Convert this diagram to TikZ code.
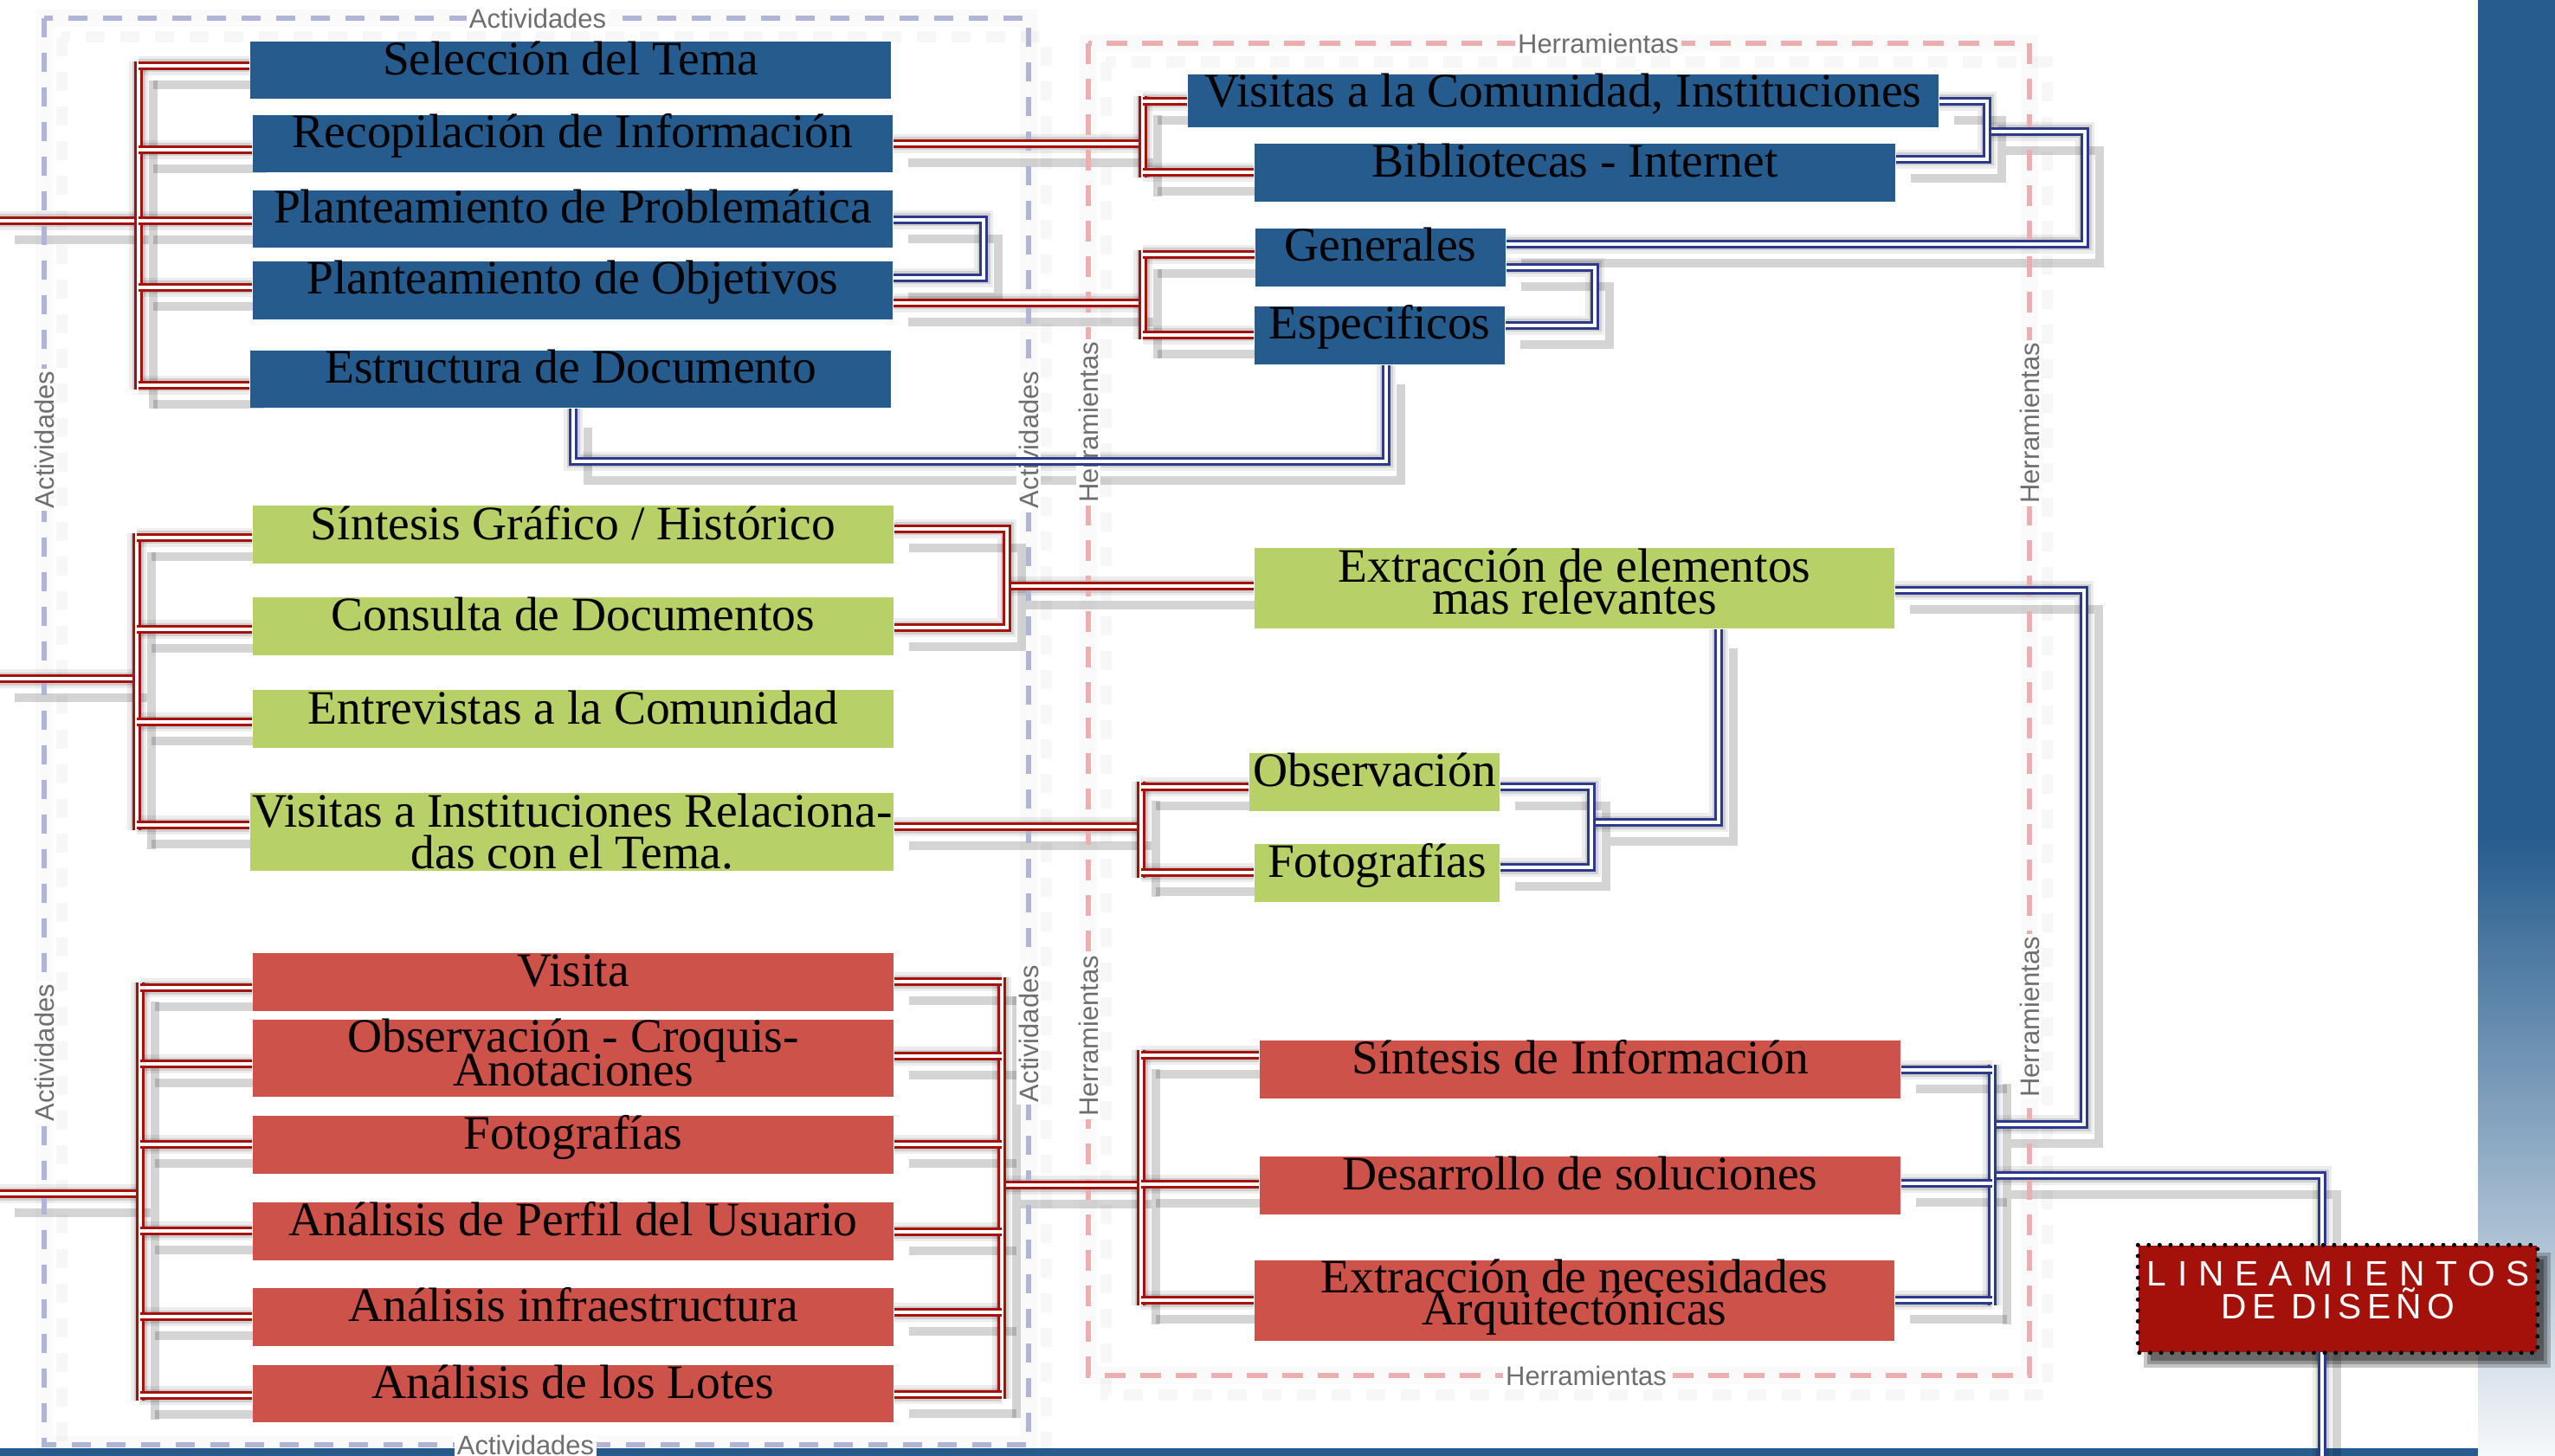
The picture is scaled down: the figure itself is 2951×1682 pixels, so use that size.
\documentclass[tikz,border=0pt]{standalone}
\usepackage{fontspec}
\setmainfont{Liberation Serif}
\setsansfont{Liberation Sans}
\newfontfamily\titlefontA[LetterSpace=31]{Liberation Sans}
\newfontfamily\titlefontB[LetterSpace=16]{Liberation Sans}
\usetikzlibrary{fit}

\definecolor{boxblue}{HTML}{255B8D}
\definecolor{boxgreen}{HTML}{B7D067}
\definecolor{boxred}{HTML}{CD524A}
\definecolor{wirered}{HTML}{A5120E}
\definecolor{wireblue}{HTML}{2B3A8A}
\definecolor{fact}{HTML}{B1B5D5}
\definecolor{fherr}{HTML}{EBAFB1}
\definecolor{labgray}{HTML}{6E6E6E}
\definecolor{linred}{HTML}{A3110A}
\definecolor{band}{HTML}{265C8E}

\pgfdeclarelayer{frameshadow}
\pgfdeclarelayer{wireshadow}
\pgfdeclarelayer{frames}
\pgfsetlayers{frameshadow,wireshadow,frames,main}

\tikzset{
  box/.style={inner sep=0pt, draw=none},
  txt/.style={inner sep=0pt, font=\fontsize{15.8}{19}\selectfont, text=black},
  wirestyle/.style={line width=0.33mm, double=white, double distance=0.4mm},
  wshadow/.style={draw=black, opacity=0.17, line width=1.0mm,
    preaction={draw=black, opacity=0.12, line width=1.5mm},
    preaction={draw=black, opacity=0.07, line width=2.2mm},
    transform canvas={shift={(17,22)}}},
  frameA/.style={draw=fact, line width=0.6mm, dash pattern=on 2.2mm off 1.8mm},
  frameH/.style={draw=fherr, line width=0.6mm, dash pattern=on 2.4mm off 1.7mm},
  fshadow/.style={draw=black, opacity=0.03, line width=1.3mm,
    dash pattern=on 2.2mm off 1.8mm, transform canvas={shift={(20,22)}},
    preaction={draw=black, opacity=0.02, line width=2.0mm}},
  flab/.style={font=\sffamily\fontsize{8.8}{10}\selectfont, text=labgray,
    fill=white, inner sep=0.3mm},
}

% connector with its soft drop shadow
\newcommand\wire[2]{%
  \begin{pgfonlayer}{wireshadow}\draw[wshadow] #2;\end{pgfonlayer}%
  \draw[wirestyle, draw=#1] #2;}

% filled box from its corners
\newcommand\ibox[6]{\node[box, fill=#6, fit={(#2,#3) (#4,#5)}] (#1) {};}

\begin{document}
\begin{tikzpicture}[x=0.1mm, y=-0.1mm]
\useasboundingbox (0,0) rectangle (2951,1682);

% ---------- page decoration ----------
\begin{pgfonlayer}{frameshadow}
  \fill[band] (2862,0) rectangle (2951,966);
  \shade[top color=band, bottom color=band!4] (2862,966) rectangle (2951,1682);
  \fill[band] (0,1673) rectangle (2862,1682);
  \draw[fshadow] (51,21) rectangle (1188,1669);
  \draw[fshadow] (1257,50) rectangle (2344,1589);
\end{pgfonlayer}

% ---------- dashed groups ----------
\begin{pgfonlayer}{frames}
  \draw[frameA] (51,21) rectangle (1188,1669);
  \draw[frameH] (1257,50) rectangle (2344,1589);
  \node[flab] (a1) at (621,21) {Actividades};
  \node[flab] (a2) at (607,1669) {Actividades};
  \node[flab, rotate=90] (a3) at (51,508) {Actividades};
  \node[flab, rotate=90] (a4) at (51,1216) {Actividades};
  \node[flab, rotate=90] (a5) at (1188,508) {Actividades};
  \node[flab, rotate=90] (a6) at (1188,1194) {Actividades};
  \node[flab] (h1l) at (1846,50) {Herramientas};
  \node[flab] (h2l) at (1832,1589) {Herramientas};
  \node[flab, rotate=90] (h3l) at (1257,488) {Herramientas};
  \node[flab, rotate=90] (h4l) at (1257,1197) {Herramientas};
  \node[flab, rotate=90] (h5l) at (2344,489) {Herramientas};
  \node[flab, rotate=90] (h6l) at (2344,1175) {Herramientas};
\end{pgfonlayer}

% ---------- boxes ----------
\ibox{b1}{289}{48}{1029}{114}{boxblue}
\ibox{b2}{292}{133}{1031}{199}{boxblue}
\ibox{b3}{292}{220}{1031}{286}{boxblue}
\ibox{b4}{292}{302}{1031}{369}{boxblue}
\ibox{b5}{289}{405}{1029}{471}{boxblue}
\ibox{h1}{1372}{86}{2239}{147}{boxblue}
\ibox{h2}{1449}{166}{2189}{233}{boxblue}
\ibox{h3}{1450}{264}{1739}{331}{boxblue}
\ibox{h4}{1449}{354}{1738}{421}{boxblue}

\ibox{g1}{292}{584}{1032}{651}{boxgreen}
\ibox{g2}{292}{690}{1032}{757}{boxgreen}
\ibox{g3}{292}{797}{1032}{864}{boxgreen}
\ibox{g4}{289}{916}{1032}{1006}{boxgreen}
\ibox{k1}{1449}{633}{2188}{726}{boxgreen}
\ibox{k2}{1443}{870}{1732}{937}{boxgreen}
\ibox{k3}{1449}{975}{1732}{1042}{boxgreen}

\ibox{r1}{292}{1101}{1032}{1168}{boxred}
\ibox{r2}{292}{1178}{1032}{1267}{boxred}
\ibox{r3}{292}{1289}{1032}{1356}{boxred}
\ibox{r4}{292}{1389}{1032}{1456}{boxred}
\ibox{r5}{292}{1488}{1032}{1555}{boxred}
\ibox{r6}{292}{1577}{1032}{1643}{boxred}
\ibox{s1}{1455}{1202}{2195}{1269}{boxred}
\ibox{s2}{1455}{1336}{2195}{1403}{boxred}
\ibox{s3}{1449}{1456}{2188}{1549}{boxred}

% ---------- box texts ----------
\node[txt, anchor=base] (b1t) at (b1.north |- 0,87) {Selección del Tema};
\node[txt, anchor=base] (b2t) at (b2.north |- 0,171) {Recopilación de Información};
\node[txt, anchor=base] (b3t) at (b3.north |- 0,258) {Planteamiento de Problemática};
\node[txt, anchor=base] (b4t) at (b4.north |- 0,340) {Planteamiento de Objetivos};
\node[txt, anchor=base] (b5t) at (b5.north |- 0,443) {Estructura de Documento};
\node[txt, anchor=base] (h1t) at (h1.north |- 0,124) {Visitas a la Comunidad, Instituciones};
\node[txt, anchor=base] (h2t) at (h2.north |- 0,205) {Bibliotecas - Internet};
\node[txt, anchor=base] (h3t) at (h3.north |- 0,302) {Generales};
\node[txt, anchor=base] (h4t) at (h4.north |- 0,392) {Especificos};

\node[txt, anchor=base] (g1t) at (g1.north |- 0,623) {Síntesis Gráfico / Histórico};
\node[txt, anchor=base] (g2t) at (g2.north |- 0,728) {Consulta de Documentos};
\node[txt, anchor=base] (g3t) at (g3.north |- 0,836) {Entrevistas a la Comunidad};
\node[txt, anchor=base] (g4t) at (661,955) {\makebox[73.9mm][s]{Visitas a Instituciones Relaciona-}};
\node[txt, anchor=base] (g4u) at (661,1003) {das con el Tema.};
\node[txt, anchor=base] (k1t) at (k1.north |- 0,672) {Extracción de elementos};
\node[txt, anchor=base] (k1u) at (k1.north |- 0,709) {mas relevantes};
\node[txt, anchor=base] (k2t) at (k2.north |- 0,908) {Observación};
\node[txt, anchor=base] (k3t) at (k3.north |- 0,1013) {Fotografías};

\node[txt, anchor=base] (r1t) at (r1.north |- 0,1139) {Visita};
\node[txt, anchor=base] (r2t) at (r2.north |- 0,1215) {Observación - Croquis-};
\node[txt, anchor=base] (r2u) at (r2.north |- 0,1254) {Anotaciones};
\node[txt, anchor=base] (r3t) at (r3.north |- 0,1327) {Fotografías};
\node[txt, anchor=base] (r4t) at (r4.north |- 0,1427) {Análisis de Perfil del Usuario};
\node[txt, anchor=base] (r5t) at (r5.north |- 0,1526) {Análisis infraestructura};
\node[txt, anchor=base] (r6t) at (r6.north |- 0,1615) {Análisis de los Lotes};
\node[txt, anchor=base] (s1t) at (s1.north |- 0,1240) {Síntesis de Información};
\node[txt, anchor=base] (s2t) at (s2.north |- 0,1374) {Desarrollo de soluciones};
\node[txt, anchor=base] (s3t) at (s3.north |- 0,1493) {Extracción de necesidades};
\node[txt, anchor=base] (s3u) at (s3.north |- 0,1530) {Arquitectónicas};

% ---------- connectors: first group ----------
\coordinate (inA) at (0,255);
\wire{wirered}{(160,71) -- (160,450)}
\wire{wirered}{(inA) -- (155,255)}
\foreach \n/\y in {b1/76,b2/173,b3/255,b4/332,b5/445}
  {\wire{wirered}{(160,\y) -- (\n.west |- 0,\y)}}

\wire{wirered}{(1320,111) -- (1320,205)}
\wire{wirered}{(b2.east |- 0,166) -- (1315,166)}
\wire{wirered}{(1320,117) -- (h1.west |- 0,117)}
\wire{wirered}{(1320,199) -- (h2.west |- 0,199)}

\wire{wirered}{(1320,289) -- (1320,392)}
\wire{wirered}{(b4.east |- 0,350) -- (1315,350)}
\wire{wirered}{(1320,294) -- (h3.west |- 0,294)}
\wire{wirered}{(1320,387) -- (h4.west |- 0,387)}

\wire{wireblue}{(b3.east |- 0,254) -- (1136,254) -- (1136,321) -- (b4.east |- 0,321)}
\wire{wireblue}{(h1.east |- 0,117) -- (2295,117) -- (2295,184) -- (h2.east |- 0,184)}
\wire{wireblue}{(2300,152) -- (2408,152) -- (2408,282) -- (h3.east |- 0,282)}
\wire{wireblue}{(h3.east |- 0,309) -- (1842,309) -- (1842,376) -- (h4.east |- 0,376)}
\wire{wireblue}{(662,0 |- b5.south) -- (662,533) -- (1601,533) -- (1601,0 |- h4.south)}

% ---------- connectors: second group ----------
\coordinate (inB) at (0,784);
\wire{wirered}{(158,616) -- (158,959)}
\wire{wirered}{(inB) -- (153,784)}
\foreach \n/\y in {g1/621,g2/727,g3/834,g4/953}
  {\wire{wirered}{(158,\y) -- (\n.west |- 0,\y)}}

\wire{wirered}{(g1.east |- 0,611) -- (1163,611) -- (1163,725) -- (g2.east |- 0,725)}
\wire{wirered}{(1168,677) -- (k1.west |- 0,677)}

\wire{wirered}{(1318,903) -- (1318,1014)}
\wire{wirered}{(g4.east |- 0,955) -- (1313,955)}
\wire{wirered}{(1318,909) -- (k2.west |- 0,909)}
\wire{wirered}{(1318,1008) -- (k3.west |- 0,1008)}

\wire{wireblue}{(k2.east |- 0,909) -- (1838,909) -- (1838,1002) -- (k3.east |- 0,1002)}
\wire{wireblue}{(1843,950) -- (1985,950) -- (1985,0 |- k1.south)}
\wire{wireblue}{(k1.east |- 0,682) -- (2407,682) -- (2407,1299) -- (2306,1299)}

% ---------- connectors: third group ----------
\coordinate (inC) at (0,1379);
\wire{wirered}{(162,1135) -- (162,1618)}
\wire{wirered}{(inC) -- (157,1379)}
\foreach \n/\y in {r1/1141,r2/1229,r3/1322,r4/1422,r5/1521,r6/1612}
  {\wire{wirered}{(162,\y) -- (\n.west |- 0,\y)}}

\wire{wirered}{(1157,1129) -- (1157,1616)}
\foreach \n/\y in {r1/1134,r2/1220,r3/1322,r4/1423,r5/1516,r6/1611}
  {\wire{wirered}{(\n.east |- 0,\y) -- (1157,\y)}}
\wire{wirered}{(1162,1369) -- (1313,1369)}

\wire{wirered}{(1318,1213) -- (1318,1508)}
\wire{wirered}{(1318,1219) -- (s1.west |- 0,1219)}
\wire{wirered}{(1318,1368) -- (s2.west |- 0,1368)}
\wire{wirered}{(1318,1502) -- (s3.west |- 0,1502)}

\wire{wireblue}{(2301,1230) -- (2301,1508)}
\wire{wireblue}{(s1.east |- 0,1236) -- (2301,1236)}
\wire{wireblue}{(s2.east |- 0,1367) -- (2301,1367)}
\wire{wireblue}{(s3.east |- 0,1502) -- (2301,1502)}
\coordinate (outEnd) at (2682,1682);
\wire{wireblue}{(2306,1358) -- (2682,1358) -- (outEnd)}

% ---------- final box ----------
\begin{pgfonlayer}{wireshadow}
  \fill[black, opacity=0.22] (2476,1447) rectangle (2946,1580);
  \fill[black, opacity=0.25] (2480,1451) rectangle (2942,1576);
  \fill[black, opacity=0.30] (2484,1455) rectangle (2938,1572);
\end{pgfonlayer}
\ibox{lin}{2470}{1439}{2930}{1562}{linred}
\draw[black, line width=0.5mm, line cap=round, dash pattern=on 0pt off 1.26mm]
  (lin.north west) rectangle (lin.south east);
\node[anchor=base west, inner sep=0pt, text=white,
  font=\titlefontA\fontsize{11.6}{13}\selectfont] (lint) at (2479,1485) {LINEAMIENTOS};
\node[anchor=base west, inner sep=0pt, text=white,
  font=\titlefontB\fontsize{11.6}{13}\selectfont] (linu) at (2565,1523) {DE DISEÑO};

\end{tikzpicture}
\end{document}
